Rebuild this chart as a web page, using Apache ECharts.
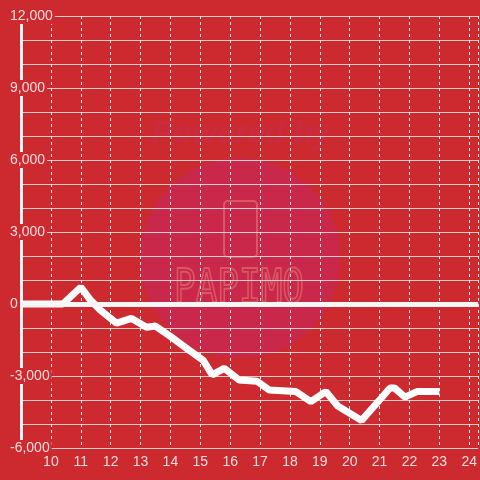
<!DOCTYPE html>
<html>
<head>
<meta charset="utf-8">
<style>
  html, body { margin: 0; padding: 0; background: #cd2a2f; }
  #chart { width: 480px; height: 480px; }
</style>
<script src="https://cdn.jsdelivr.net/npm/echarts@6/dist/echarts.min.js"></script>
</head>
<body>
<div id="chart"></div>
<script>
// 时间（小时）与盈亏数值
const hours = [9, 10.4, 11.0, 11.3, 11.65, 12.2, 12.7, 13.2, 13.5, 14.0, 14.6, 15.1, 15.4, 15.8,
  16.3, 16.9, 17.3, 18.2, 18.7, 19.2, 19.6, 20.4, 21.0, 21.35, 21.5, 21.85, 22.25, 23.0];
const values = [0, 0, 700, 200, -250, -800, -600, -970, -920, -1350, -1900, -2350, -2950, -2680,
  -3170, -3220, -3580, -3650, -4070, -3650, -4250, -4850, -4000, -3500, -3500, -3880, -3650, -3650];

const COLORS = {
  bg: '#cd2a2f',
  grid: '#cfcfcf',
  dash: '#ececec',
  label: '#f5dcdc',
  mark: '#c9284a',
  logo: '#d95863'
};

const chart = echarts.init(document.getElementById('chart'));

const seriesData = hours.map((h, i) => [h, values[i]]);

// 水印（背景装饰）
const watermark = [
  { type: 'circle', z: -10, shape: { cx: 240, cy: 258, r: 100 }, style: { fill: COLORS.mark } },
  {
    type: 'text', z: -10, x: 241, y: 134,
    style: {
      text: 'Powered by', fill: '#c92b40', font: 'italic bold 32px "Liberation Sans"',
      align: 'center', verticalAlign: 'middle'
    }
  },
  {
    type: 'rect', z: -10,
    shape: { x: 224, y: 201, width: 33, height: 56, r: 4 },
    style: { fill: 'none', stroke: COLORS.logo, lineWidth: 2 }
  },
  {
    type: 'text', z: -10, x: 239, y: 290, scaleY: 1.3, originX: 0, originY: 0,
    style: {
      text: 'PAPIMO', fill: 'none', stroke: COLORS.logo, lineWidth: 1.5,
      font: '36px "DejaVu Sans Mono"', align: 'center', verticalAlign: 'middle'
    }
  }
];

const option = {
  backgroundColor: COLORS.bg,
  animation: false,
  textStyle: { fontFamily: 'Liberation Sans' },
  graphic: watermark,
  grid: { left: 21, right: 0, top: 16, bottom: 32, containLabel: false },
  xAxis: {
    type: 'value', min: 9, max: 24.3, interval: 1,
    axisLine: { show: false },
    axisTick: { show: false },
    axisLabel: {
      color: COLORS.label, fontSize: 14, margin: 7, showMaxLabel: false,
      formatter: v => (v >= 10 && Number.isInteger(v)) ? String(v) : ''
    },
    splitLine: { show: true, lineStyle: { color: COLORS.dash, type: [3, 3], width: 1 } }
  },
  yAxis: {
    type: 'value', min: -6000, max: 12000, interval: 3000,
    axisLine: { show: true, lineStyle: { color: '#f4f4f4', width: 3 } },
    axisTick: { show: false },
    minorTick: { show: false, splitNumber: 3 },
    axisLabel: {
      color: COLORS.label, fontSize: 14, margin: 13, align: 'left',
      backgroundColor: COLORS.bg, padding: [1, 2],
      formatter: v => v.toLocaleString('en-US')
    },
    splitLine: { show: true, lineStyle: { color: COLORS.grid, width: 1 } },
    minorSplitLine: { show: true, lineStyle: { color: COLORS.grid, width: 1 } }
  },
  series: [{
    type: 'line',
    data: seriesData,
    showSymbol: false,
    lineStyle: { color: '#ffffff', width: 7 },
    markLine: {
      silent: true, symbol: 'none', label: { show: false },
      lineStyle: { color: '#f6f6f6', width: 5, type: 'solid' },
      data: [{ yAxis: 0 }]
    }
  }]
};

chart.setOption(option);
</script>
</body>
</html>
